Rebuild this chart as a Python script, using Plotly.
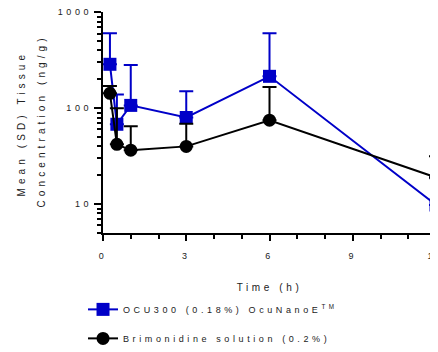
import plotly.graph_objects as go

time_h = [0.25, 0.5, 1, 3, 6, 12]

ocu_mean = [287, 68, 107, 80, 215, 9.8]
ocu_upper = [604, 139, 282, 150, 604, 19]

brim_mean = [143, 42, 36.5, 40, 75, 19]
brim_upper = [170, 100, 65, 69, 166, 31.5]

ocu_name = "OCU300 (0.18%) OcuNanoE<sup>TM</sup>"
brim_name = "Brimonidine solution (0.2%)"

x_ticks = [0, 3, 6, 9, 12]
y_ticks = [10, 100, 1000]
y_tick_text = ["10", "100", "1000"]

y_title_1 = "Mean (SD) Tissue"
y_title_2 = "Concentration (ng/g)"
x_title = "Time (h)"

blue = "#0000C8"
black = "#000000"
font_family = "Liberation Sans, Arial, sans-serif"
txt = "#222222"

fig = go.Figure()

fig.add_trace(go.Scatter(
    x=time_h, y=ocu_mean, name=ocu_name, mode="lines+markers",
    line=dict(color=blue, width=2),
    marker=dict(symbol="square", size=13, color=blue),
    error_y=dict(type="data", symmetric=False,
                 array=[u - m for u, m in zip(ocu_upper, ocu_mean)],
                 arrayminus=[0] * len(ocu_mean),
                 color=blue, thickness=2, width=7),
    cliponaxis=False, legendgroup="a",
))

fig.add_trace(go.Scatter(
    x=time_h, y=brim_mean, name=brim_name, mode="lines+markers",
    line=dict(color=black, width=2),
    marker=dict(symbol="circle", size=13, color=black),
    error_y=dict(type="data", symmetric=False,
                 array=[u - m for u, m in zip(brim_upper, brim_mean)],
                 arrayminus=[0] * len(brim_mean),
                 color=black, thickness=2, width=7),
    cliponaxis=False, legendgroup="b",
))

minor_y = [k * d for d in [10, 100] for k in range(2, 10)] + [5, 6, 7, 8, 9]

fig.update_layout(
    width=438, height=352,
    margin=dict(l=95, r=10, t=4, b=127),
    paper_bgcolor="white", plot_bgcolor="white",
    font=dict(family=font_family, size=9, color=txt),
    showlegend=True,
    legend=dict(x=-0.06, y=-0.28, xanchor="left", yanchor="top",
                font=dict(size=9, color=txt), tracegroupgap=10,
                bgcolor="rgba(0,0,0,0)", itemwidth=30),
    xaxis=dict(
        range=[0, 12], tickvals=x_ticks, ticktext=[str(v) for v in x_ticks],
        showline=True, linecolor="black", linewidth=2,
        ticks="outside", ticklen=6, tickwidth=2, tickcolor="black",
        ticklabelstandoff=7, ticklabeloverflow="allow",
        showgrid=False, zeroline=False, automargin=False,
        tickfont=dict(size=9, color=txt),
        minor=dict(tickvals=[1, 2, 4, 5, 7, 8, 10, 11], ticks="outside",
                   ticklen=4, tickwidth=1.5, tickcolor="black", showgrid=False),
        title=dict(text=x_title, font=dict(size=10, color=txt), standoff=24),
    ),
    yaxis=dict(
        type="log", range=[0.699, 3.003],
        tickvals=y_ticks, ticktext=y_tick_text,
        showline=True, linecolor="black", linewidth=2,
        ticks="outside", ticklen=7, tickwidth=2, tickcolor="black",
        ticklabeloverflow="allow",
        showgrid=False, zeroline=False, automargin=False,
        tickfont=dict(size=9, color=txt),
        minor=dict(tickvals=minor_y, ticks="outside", ticklen=4,
                   tickwidth=1.5, tickcolor="black", showgrid=False),
    ),
    annotations=[
        dict(text=y_title_1, xref="paper", yref="paper", x=-0.243, y=0.495,
             xanchor="center", yanchor="middle", textangle=-90,
             showarrow=False, font=dict(size=10, color=txt)),
        dict(text=y_title_2, xref="paper", yref="paper", x=-0.186, y=0.505,
             xanchor="center", yanchor="middle", textangle=-90,
             showarrow=False, font=dict(size=10, color=txt)),
    ],
)

spacing_js = (
    "var gd=document.getElementById('{plot_id}');"
    "gd.querySelectorAll('text').forEach(function(t){t.style.letterSpacing='3.6px';});"
    "gd.querySelectorAll('.annotation text').forEach(function(t){t.style.letterSpacing='4.1px';});"
    "gd.querySelectorAll('.legend [clip-path]').forEach(function(e){e.removeAttribute('clip-path');});"
)

fig.write_html("out.html", post_script=spacing_js)
